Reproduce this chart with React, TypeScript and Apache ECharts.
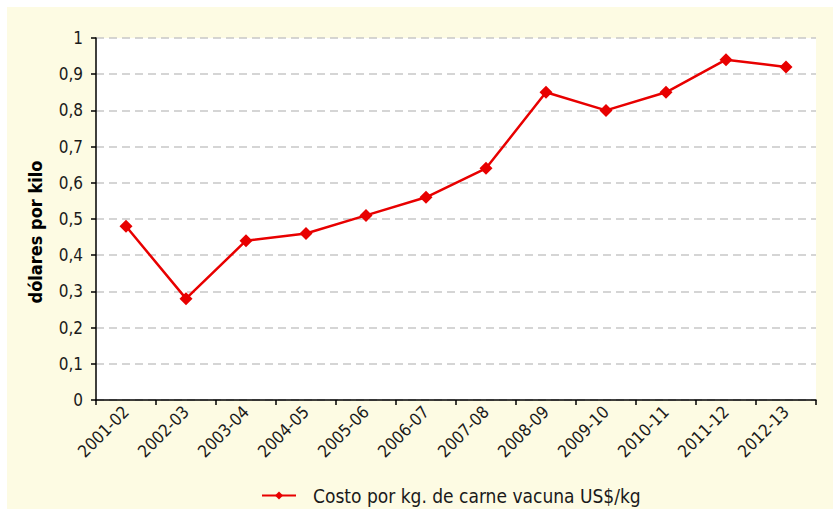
import React, { useEffect, useRef } from "react";
import * as echarts from "echarts";

const categories = ["2001-02", "2002-03", "2003-04", "2004-05", "2005-06", "2006-07", "2007-08", "2008-09", "2009-10", "2010-11", "2011-12", "2012-13"];
const values = [0.48, 0.28, 0.44, 0.46, 0.51, 0.56, 0.64, 0.85, 0.8, 0.85, 0.94, 0.92];
const seriesName = "Costo por kg. de carne vacuna US$/kg";
const yAxisName = "dólares por kilo";

const FONT = "'DejaVu Sans Condensed', 'Liberation Sans', sans-serif";

export default function App() {
  const ref = useRef<HTMLDivElement>(null);
  useEffect(() => {
    if (!ref.current) return;
    const chart = echarts.init(ref.current, undefined, { renderer: "svg" });
    chart.setOption({
      animation: false,
      backgroundColor: "#ffffff",
      graphic: [
        {
          type: "rect",
          z: -10,
          silent: true,
          shape: { x: 7, y: 7, width: 826, height: 502 },
          style: { fill: "#FDFBE3" },
        },
        {
          type: "text",
          x: 35,
          y: 232,
          rotation: Math.PI / 2,
          silent: true,
          style: {
            text: yAxisName,
            fontFamily: FONT,
            fontSize: 18,
            fontWeight: "bold",
            fill: "#000000",
            align: "center",
            verticalAlign: "middle",
          },
        },
      ],
      grid: {
        left: 96,
        right: 17,
        top: 38,
        bottom: 109,
        show: true,
        backgroundColor: "#ffffff",
        borderWidth: 0,
        z: 0,
      },
      legend: {
        left: 256,
        top: 481,
        itemWidth: 34,
        itemHeight: 10,
        data: [seriesName],
        textStyle: {
          fontFamily: FONT,
          fontSize: 19,
          color: "#1a1a1a",
          padding: [0, 0, 0, 12],
        },
      },
      xAxis: {
        type: "category",
        data: categories,
        boundaryGap: true,
        axisLine: { lineStyle: { color: "#000000", width: 1.5 } },
        axisTick: { show: true, length: 5, alignWithLabel: false, lineStyle: { color: "#000000", width: 1.5 } },
        axisLabel: {
          rotate: 45,
          interval: 0,
          fontFamily: FONT,
          fontSize: 17,
          color: "#1a1a1a",
          margin: 9,
        },
        splitLine: { show: false },
      },
      yAxis: {
        type: "value",
        min: 0,
        max: 1,
        interval: 0.1,
        axisLine: { show: true, lineStyle: { color: "#000000", width: 1.5 } },
        axisTick: { show: true, length: 5, lineStyle: { color: "#000000", width: 1.5 } },
        axisLabel: {
          fontFamily: FONT,
          fontSize: 17,
          color: "#1a1a1a",
          margin: 13,
          formatter: (v: number) => (Math.round(v * 10) / 10).toString().replace(".", ","),
        },
        splitLine: {
          show: true,
          lineStyle: { color: "#c8c8c8", type: [8, 5], width: 1.5 },
        },
      },
      series: [
        {
          name: seriesName,
          type: "line",
          data: values,
          symbol: "diamond",
          symbolSize: 13,
          itemStyle: { color: "#E80000" },
          lineStyle: { color: "#E80000", width: 2.5 },
          z: 5,
        },
      ],
    });
    return () => chart.dispose();
  }, []);
  return <div ref={ref} style={{ position: "absolute", left: 0, top: 0, width: 833, height: 509 }} />;
}
